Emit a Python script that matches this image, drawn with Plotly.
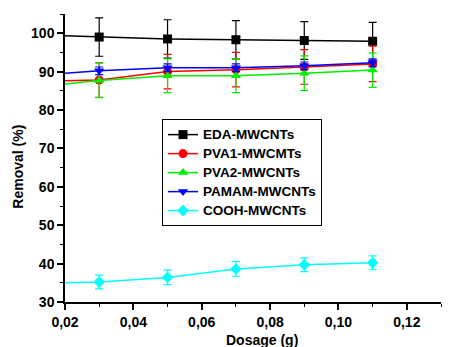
import plotly.graph_objects as go

dosage = [0.01, 0.03, 0.05, 0.07, 0.09, 0.11]

eda = [99.6, 99.0, 98.5, 98.3, 98.1, 97.9]
eda_err = [5.0, 5.0, 5.0, 5.0, 4.9, 4.9]

pva1 = [87.4, 87.8, 90.0, 90.5, 91.2, 92.0]
pva1_err = [4.5, 4.5, 4.5, 4.5, 4.5, 4.6]

pva2 = [85.9, 87.7, 88.9, 88.9, 89.6, 90.4]
pva2_err = [4.5, 4.5, 4.4, 4.4, 4.5, 4.5]

pamam = [88.9, 90.2, 91.0, 91.0, 91.5, 92.3]
pamam_err = [1.0, 1.0, 1.0, 1.0, 1.0, 1.0]

cooh = [34.8, 35.2, 36.4, 38.6, 39.7, 40.2]
cooh_err = [1.8, 1.8, 1.9, 1.9, 1.8, 1.8]

names = ["EDA-MWCNTs", "PVA1-MWCMTs", "PVA2-MWCNTs", "PAMAM-MWCNTs", "COOH-MWCNTs"]
series = [eda, pva1, pva2, pamam, cooh]
errs = [eda_err, pva1_err, pva2_err, pamam_err, cooh_err]
colors = ["#000000", "#ff0000", "#00ee00", "#0000ff", "#00ffff"]
symbols = ["square", "circle", "triangle-up", "triangle-down", "diamond"]

x_title = "Dosage (g)"
y_title = "Removal (%)"

fig = go.Figure()
for n, s, e, c, sym in zip(names, series, errs, colors, symbols):
    fig.add_trace(go.Scatter(
        x=dosage, y=s, name='<span style="font-size:13.5px">' + n + '</span>',
        mode="lines+markers",
        line=dict(color=c, width=1.5),
        marker=dict(symbol=sym, size=9, color=c),
        error_y=dict(type="data", array=e, color=c, thickness=1.2, width=4),
        cliponaxis=True,
    ))

font_family = "Liberation Sans, Arial, sans-serif"
fig.update_layout(
    width=451, height=347,
    margin=dict(l=65, r=10, t=14, b=45),
    paper_bgcolor="white", plot_bgcolor="white",
    separators=", ",
    font=dict(family=font_family, size=14, color="black"),
    showlegend=True,
    legend=dict(
        x=0.258, y=0.635, xanchor="left", yanchor="top",
        bordercolor="black", borderwidth=1, bgcolor="white",
        font=dict(family=font_family, size=12.3, color="black", weight="bold"),
        tracegroupgap=0, itemwidth=30,
    ),
    xaxis=dict(
        range=[0.02, 0.13], tickvals=[0.02, 0.04, 0.06, 0.08, 0.10, 0.12],
        tickformat=".2f", showgrid=False, zeroline=False, automargin=False,
        showline=True, linecolor="black", linewidth=1.5,
        ticks="outside", ticklen=6, tickwidth=1.5, tickcolor="black",
        minor=dict(tickvals=[0.03, 0.05, 0.07, 0.09, 0.11, 0.13], ticks="outside", ticklen=3, tickwidth=1.2, tickcolor="black"),
        tickfont=dict(size=14, weight="bold"),
    ),
    yaxis=dict(
        range=[30, 105], tickvals=[30, 40, 50, 60, 70, 80, 90, 100],
        showgrid=False, zeroline=False, automargin=False,
        showline=True, linecolor="black", linewidth=1.5,
        ticks="outside", ticklen=6, tickwidth=1.5, tickcolor="black",
        minor=dict(tickvals=[35, 45, 55, 65, 75, 85, 95, 105], ticks="outside", ticklen=3, tickwidth=1.2, tickcolor="black"),
        tickfont=dict(size=14, weight="bold"),
    ),
    annotations=[
        dict(text="<b>" + x_title + "</b>", xref="paper", yref="paper",
             x=0.523, y=-0.097, xanchor="center", yanchor="top", showarrow=False,
             font=dict(size=14)),
        dict(text="<b>" + y_title + "</b>", xref="paper", yref="paper",
             x=-0.125, y=0.47, xanchor="center", yanchor="middle", showarrow=False,
             textangle=-90, font=dict(size=14)),
    ],
)

fig.write_html("out.html")
